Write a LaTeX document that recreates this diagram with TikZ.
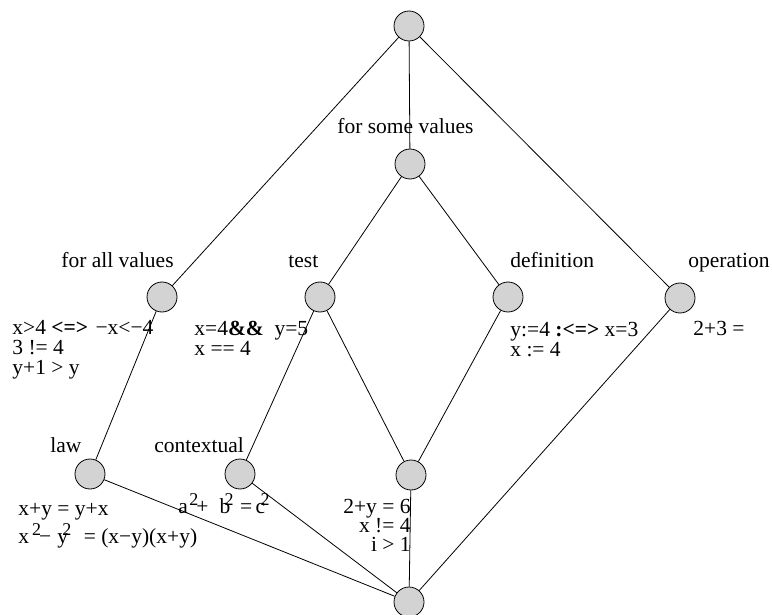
\documentclass[tikz,border=0pt]{standalone}
\usepackage{fontspec}
\setmainfont{Liberation Serif}
\usepackage{xcolor}
\usepackage{tikz}
\usetikzlibrary{positioning}
\definecolor{nodegray}{RGB}{211,211,211}
\newcommand{\sqtwo}[1]{\kern#1\smash{\raisebox{8pt}{\fontsize{18}{18}\selectfont 2}}}

\begin{document}
\begin{tikzpicture}[x=1pt, y=-1pt, line width=0.8pt,
  dot/.style={circle, draw, fill=nodegray, minimum size=30pt, inner sep=0pt},
  txt/.style={anchor=base west, inner sep=0pt, align=left, font=\fontsize{21.5}{20}\selectfont}]
\useasboundingbox (0,0) rectangle (772,615);
% circles
\node[dot] (top) at (409,26) {};
\node[dot] (some) at (410,164) {};
\node[dot] (all) at (162,297) {};
\node[dot] (test) at (320,297) {};
\node[dot] (defn) at (508,297) {};
\node[dot] (oper) at (680,298) {};
\node[dot] (law) at (90,474) {};
\node[dot] (ctx) at (240,474) {};
\node[dot] (mid) at (411,475) {};
\node[dot] (bot) at (409,602) {};
% names
\node[txt] (tsome) at (337,134) {for some values};
\node[txt] (tall) at (61,268) {for all values};
\node[txt] (ttest) at (288,268) {test};
\node[txt] (tdefn) at (510,268) {definition};
\node[txt] (toper) at (688,268) {operation};
\node[txt] (tlaw) at (50,452) {law};
\node[txt] (tctx) at (154,452) {contextual};
% examples (base anchor sits on the last line)
\node[txt] (eall) at (12,374) {x>4 {\bfseries<=>} \kern2pt−x<−4\\3 != 4\\y+1 > y};
\node[txt] (etest) at (194,355) {x=4{\bfseries\&\&}\ \ y=5\\x == 4};
\node[txt] (edefn) at (510,356) {y:=4 {\bfseries:<=>} x=3\\x := 4};
\node[txt] (eoper) at (693,335) {2+3 =};
\node[txt] (elaw) at (18,543) {x+y = y+x\\[8pt]x\sqtwo{3pt}\kern-2pt−\kern6pt y\sqtwo{-5.75pt}\kern12.5pt= (x−y)(x+y)};
\node[txt] (ectx) at (178,513) {a\sqtwo{1.5pt}\kern-2pt+\kern11pt b\sqtwo{-5.75pt}\kern6.5pt=\kern3.5pt c\sqtwo{-4.5pt}};
\node[txt, anchor=base east, align=right, font=\fontsize{21.5}{19}\selectfont] (emid) at (411,551) {2+y = 6\\x != 4\\i > 1};
% lines
\draw (top) -- (some);
\draw (top) -- (all);
\draw (top) -- (oper);
\draw (some) -- (test);
\draw (some) -- (defn);
\draw (all) -- (law);
\draw (test) -- (ctx);
\draw (test) -- (mid);
\draw (defn) -- (mid);
\draw (oper) -- (bot);
\draw (law) -- (bot);
\draw (ctx) -- (bot);
\draw (mid) -- (bot);
\end{tikzpicture}
\end{document}
